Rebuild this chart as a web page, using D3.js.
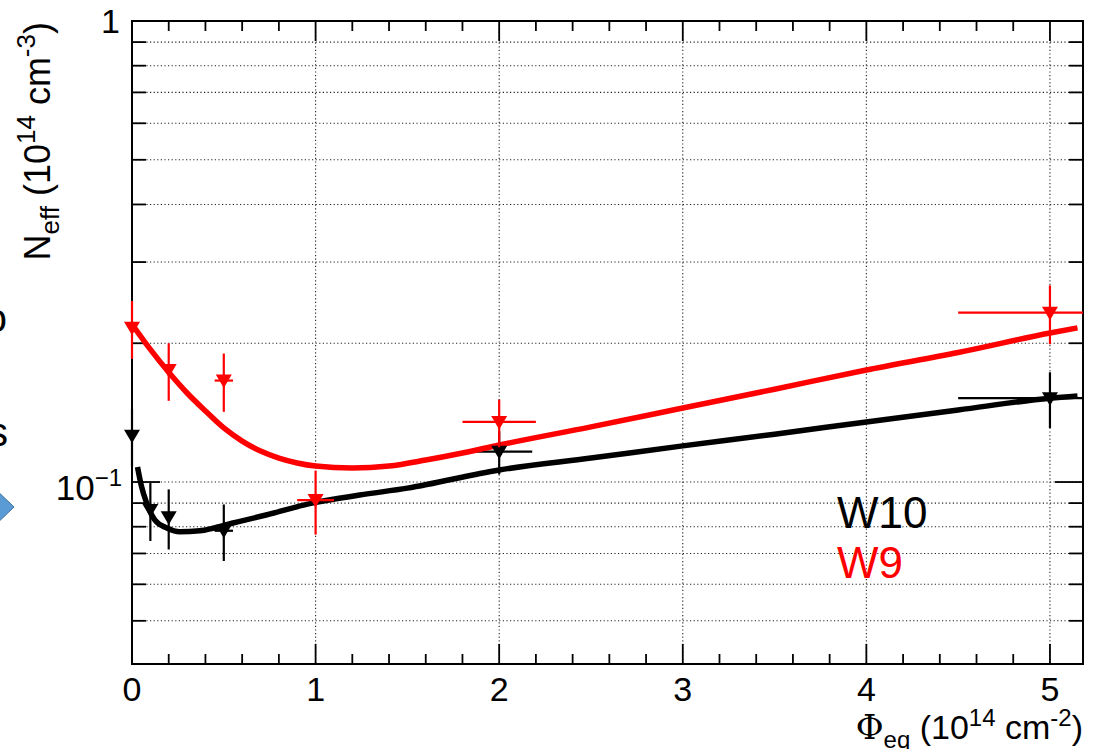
<!DOCTYPE html>
<html><head><meta charset="utf-8">
<script src="https://cdn.jsdelivr.net/npm/d3@7"></script>
<style>
html,body{margin:0;padding:0;background:#fff;overflow:hidden}
svg{display:block}
text{font-family:"Liberation Sans",Arial,Helvetica,sans-serif}
</style></head>
<body>
<script>
// ---- data ----
const w9X  = [0, 0.2, 0.5, 1, 2, 5];
const w9Y  = [0.216, 0.175, 0.166, 0.0914, 0.135, 0.233];
const w9Ey = [0.031, 0.025, 0.024, 0.0145, 0.016, 0.034];
const w9Ex = [0, 0, 0.05, 0.1, 0.2, 0.5];

const w10X  = [0, 0.1, 0.2, 0.5, 2, 5];
const w10Y  = [0.126, 0.087, 0.0839, 0.0784, 0.1164, 0.152];
const w10Ey = [0.018, 0.0125, 0.0125, 0.011, 0.0125, 0.021];
const w10Ex = [0, 0, 0, 0.05, 0.18, 0.5];

// fitted curves
const w9FitX = [0, 0.1, 0.2, 0.3, 0.4, 0.5, 0.6, 0.7, 0.8, 0.9, 1.0, 1.2, 1.4, 1.6, 1.8, 2.0, 2.5, 3.0, 3.5, 4.0, 4.5, 5.0, 5.15];
const w9FitY = [0.220, 0.194, 0.173, 0.156, 0.1426, 0.131, 0.1227, 0.1167, 0.1127, 0.110, 0.1083, 0.1072, 0.1083, 0.1116, 0.1156, 0.1203, 0.1317, 0.1447, 0.159, 0.175, 0.191, 0.2105, 0.216];
const w10FitX = [0.03, 0.05, 0.08, 0.125, 0.19, 0.26, 0.37, 0.55, 0.73, 0.98, 1.24, 1.5, 2.0, 2.5, 3.0, 3.5, 4.0, 4.5, 5.0, 5.15];
const w10FitY = [0.1078, 0.0985, 0.090, 0.0827, 0.0795, 0.078, 0.0784, 0.0815, 0.0848, 0.090, 0.0937, 0.097, 0.1062, 0.1127, 0.1198, 0.127, 0.135, 0.1433, 0.152, 0.1537];

const xTickValues = [0, 1, 2, 3, 4, 5];
const yGridValues = [0.05, 0.06, 0.07, 0.08, 0.09, 0.1, 0.2, 0.3, 0.4, 0.5, 0.6, 0.7, 0.8, 0.9];
const legendLabels = ["W10", "W9"];
const seriesColors = ["#000000", "#ff0000"];

// ---- layout ----
const W = 1112, H = 749;
const L = 132, T = 21, R = 1083, B = 664;
const svg = d3.select("body").append("svg").attr("width", W).attr("height", H);

const x = d3.scaleLinear().domain([0, 5.18]).range([L, R]);
const y = d3.scaleLog().domain([0.0403, 1]).range([B, T]);

// background slide fragments at the left edge
svg.append("text").attr("x", 7).attr("y", 332).attr("text-anchor", "end")
  .attr("font-size", 40).attr("font-family", "Open Sans, sans-serif").text("o");
svg.append("text").attr("x", 8).attr("y", 446).attr("text-anchor", "end")
  .attr("font-size", 40).attr("font-family", "Open Sans, sans-serif").text("s");
svg.append("polygon").attr("points", "-10,484 14,507 -10,530")
  .attr("fill", "#5b9bd5").attr("stroke", "#41719c").attr("stroke-width", 1);

svg.append("clipPath").attr("id", "clip").append("rect")
  .attr("x", L).attr("y", T).attr("width", R - L).attr("height", B - T);

// grid
const grid = svg.append("g").attr("stroke", "#222").attr("stroke-width", 1.1)
  .attr("stroke-dasharray", "1.2,2.4");
grid.selectAll("line.gy").data(yGridValues).join("line")
  .attr("x1", L).attr("x2", R).attr("y1", d => y(d)).attr("y2", d => y(d));
grid.selectAll("line.gx").data(xTickValues.filter(d => d > 0)).join("line")
  .attr("x1", d => x(d)).attr("x2", d => x(d)).attr("y1", T).attr("y2", B);

// axes (ticks inside, mirrored)
const xMinor = d3.range(0, 5.19, 0.2).map(d => +d.toFixed(2));
const yMinorAll = yGridValues.concat([1]);
const ax = svg.append("g").attr("stroke", "#000").attr("stroke-width", 1.8);
xMinor.forEach(v => {
  const major = Math.abs(v - Math.round(v)) < 1e-6;
  const len = major ? 20 : 10;
  ax.append("line").attr("x1", x(v)).attr("x2", x(v)).attr("y1", B).attr("y2", B - len);
  ax.append("line").attr("x1", x(v)).attr("x2", x(v)).attr("y1", T).attr("y2", T + len);
});
yMinorAll.forEach(v => {
  const major = (v === 1 || v === 0.1);
  const len = major ? 28 : 14;
  ax.append("line").attr("x1", L).attr("x2", L + len).attr("y1", y(v)).attr("y2", y(v));
  ax.append("line").attr("x1", R).attr("x2", R - len).attr("y1", y(v)).attr("y2", y(v));
});
svg.append("rect").attr("x", L).attr("y", T).attr("width", R - L).attr("height", B - T)
  .attr("fill", "none").attr("stroke", "#000").attr("stroke-width", 2);

// tick labels
svg.selectAll("text.xl").data(xTickValues).join("text")
  .attr("x", d => x(d)).attr("y", 701).attr("text-anchor", "middle")
  .attr("font-size", 34).text(d => d);
svg.append("text").attr("x", 120).attr("y", 33).attr("text-anchor", "end")
  .attr("font-size", 34).text("1");
const yl = svg.append("text").attr("x", 122).attr("y", y(0.1) + 18).attr("text-anchor", "end")
  .attr("font-size", 35);
yl.append("tspan").text("10");
yl.append("tspan").attr("dy", -14).attr("font-size", 24).text("\u22121");

// axis titles
const yt = svg.append("text").attr("transform", `translate(50,${T + 1}) rotate(-90)`)
  .attr("text-anchor", "end").attr("font-size", 36);
yt.append("tspan").text("N");
yt.append("tspan").attr("dy", 9).attr("font-size", 26).text("eff");
yt.append("tspan").attr("dy", -9).text(" (10");
yt.append("tspan").attr("dy", -15).attr("font-size", 26).text("14");
yt.append("tspan").attr("dy", 15).text(" cm");
yt.append("tspan").attr("dy", -15).attr("font-size", 26).text("-3");
yt.append("tspan").attr("dy", 15).text(")");

const xt = svg.append("text").attr("x", 1083).attr("y", 739)
  .attr("text-anchor", "end").attr("font-size", 34);
xt.append("tspan").attr("font-family", "DejaVu Serif, Liberation Serif, serif").text("\u03A6");
xt.append("tspan").attr("dy", 9).attr("font-size", 24).text("eq");
xt.append("tspan").attr("dy", -9).text(" (10");
xt.append("tspan").attr("dy", -13).attr("font-size", 24).text("14");
xt.append("tspan").attr("dy", 13).text(" cm");
xt.append("tspan").attr("dy", -13).attr("font-size", 24).text("-2");
xt.append("tspan").attr("dy", 13).text(")");

// series
const clipped = svg.append("g").attr("clip-path", "url(#clip)");
const free = svg.append("g");
const line = d3.line().x(d => x(d[0])).y(d => y(d[1])).curve(d3.curveMonotoneX);
const series = [
  {fx: w10FitX, fy: w10FitY, px: w10X, py: w10Y, ex: w10Ex, ey: w10Ey, c: seriesColors[0]},
  {fx: w9FitX,  fy: w9FitY,  px: w9X,  py: w9Y,  ex: w9Ex,  ey: w9Ey,  c: seriesColors[1]}
];
series.forEach(s => {
  clipped.append("path").datum(s.fx.map((v, i) => [v, s.fy[i]])).attr("d", line)
    .attr("fill", "none").attr("stroke", s.c).attr("stroke-width", 5.5);
  s.px.forEach((v, i) => {
    const cx = x(v), cy = y(s.py[i]);
    free.append("line").attr("x1", cx).attr("x2", cx)
      .attr("y1", y(s.py[i] + s.ey[i])).attr("y2", y(s.py[i] - s.ey[i]))
      .attr("stroke", s.c).attr("stroke-width", 2.2);
    if (s.ex[i] > 0) {
      clipped.append("line").attr("x1", x(v - s.ex[i])).attr("x2", x(v + s.ex[i]))
        .attr("y1", cy).attr("y2", cy).attr("stroke", s.c).attr("stroke-width", 2.2);
    }
    free.append("path").attr("transform", `translate(${cx},${cy})`)
      .attr("d", "M-8,-6 L8,-6 L0,7.5 Z").attr("fill", s.c);
  });
});

// legend
svg.selectAll("text.lg").data(legendLabels).join("text")
  .attr("x", 837).attr("y", (d, i) => 528 + i * 50)
  .attr("font-size", 44).attr("fill", (d, i) => seriesColors[i]).text(d => d);
</script>
</body></html>
